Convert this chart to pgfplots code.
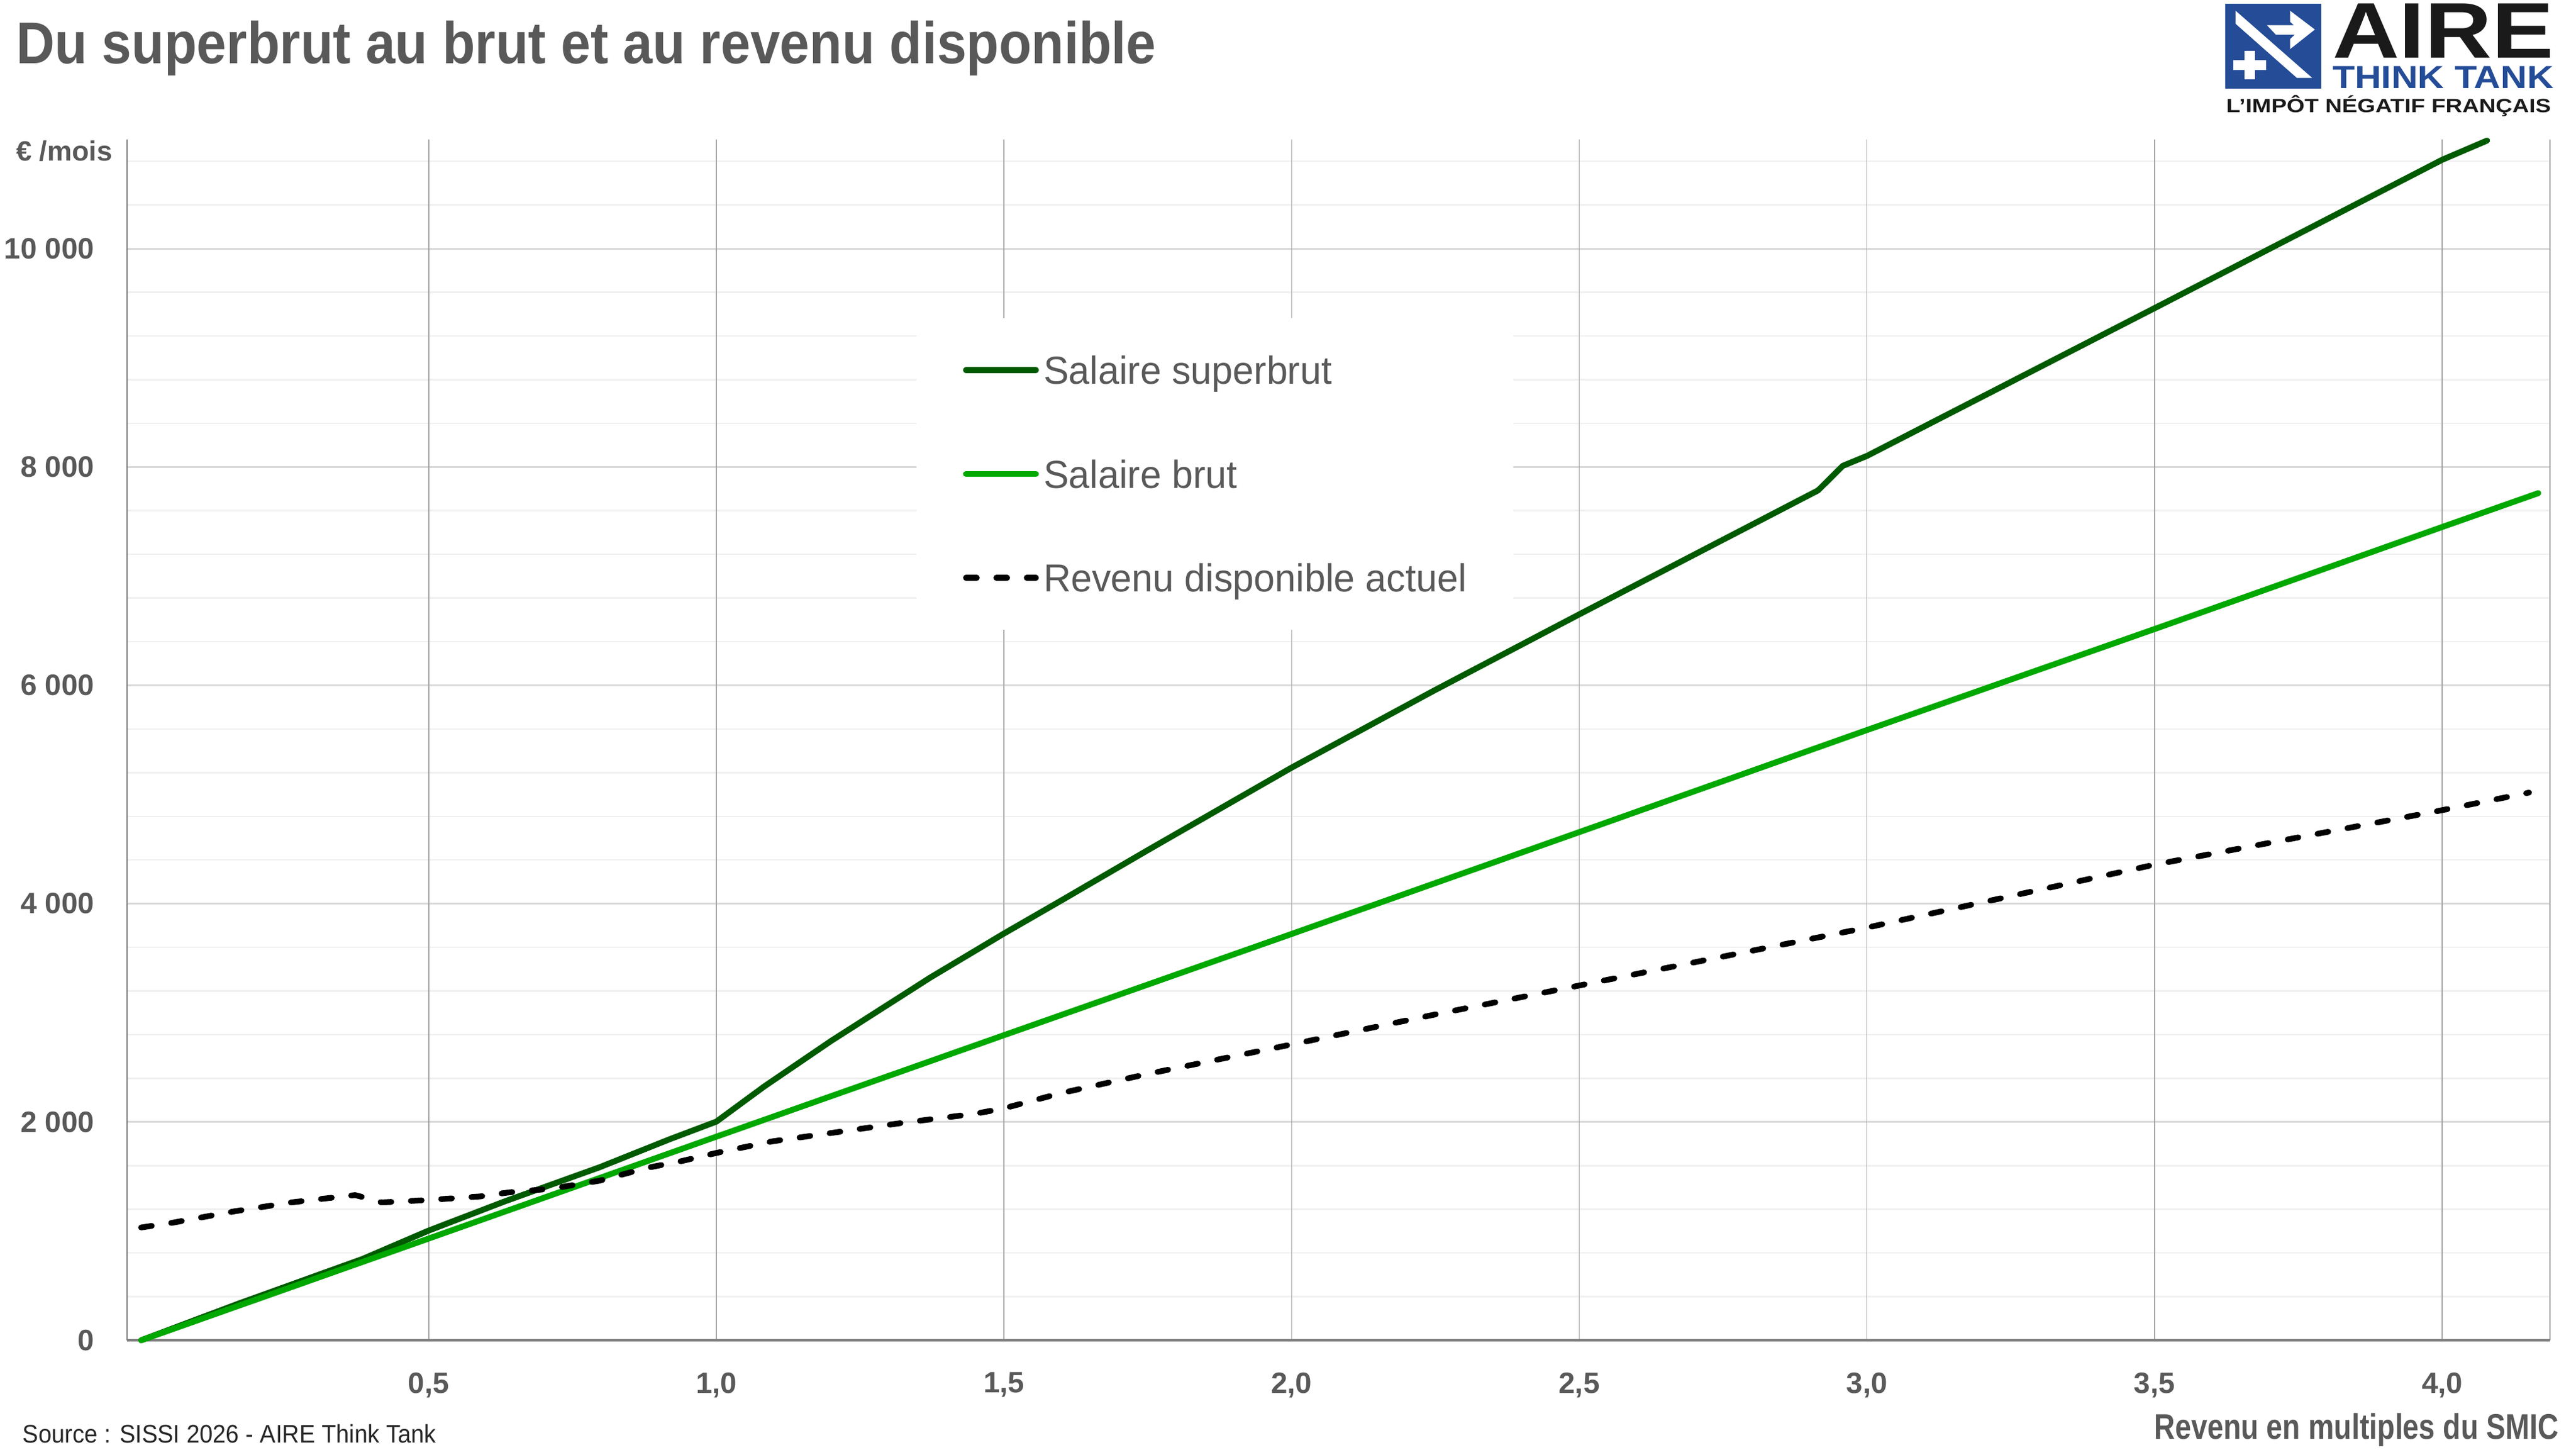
\documentclass[border=0pt]{standalone}
\usepackage{pgfplots}
\pgfplotsset{compat=1.18}
\usepackage{fontspec}
\setmainfont{Liberation Sans}
\newfontfamily\titlef[FakeStretch=0.905]{Liberation Sans}
\newfontfamily\axf[FakeStretch=0.81]{Liberation Sans}
\newfontfamily\legf[FakeStretch=0.97]{Liberation Sans}
\newfontfamily\srcf[FakeStretch=0.93]{Liberation Sans}
\definecolor{txtgray}{HTML}{595959}
\definecolor{srcblack}{HTML}{262626}
\definecolor{sbgreen}{HTML}{005A00}
\definecolor{bgreen}{HTML}{00A800}
\definecolor{aireblue}{HTML}{244C97}
\definecolor{airedark}{HTML}{1A1A1A}
\definecolor{gridmaj}{HTML}{D9D9D9}
\definecolor{gridmin}{HTML}{F0F0F0}
\definecolor{vgrid}{HTML}{A6A6A6}
\definecolor{axgray}{HTML}{808080}
\begin{document}
\begin{tikzpicture}
\path[use as bounding box] (-41.1pt,-35.4pt) rectangle (790.3pt,432.4pt);
% horizontal grid lines
\begin{axis}[
  at={(0pt,0pt)}, anchor=south west,
  scale only axis, width=781.9pt, height=387.4pt,
  xmin=-0.0239, xmax=4.1874, ymin=0, ymax=11000,
  axis line style={draw=none},
  scaled ticks=false,
  xtick=\empty,
  ytick={0,2000,4000,6000,8000,10000},
  minor ytick={400,800,1200,1600,2400,2800,3200,3600,4400,4800,5200,5600,6400,6800,7200,7600,8400,8800,9200,9600,10400,10800},
  yticklabels={},
  tick style={draw=none},
  ymajorgrids=true, yminorgrids=true,
  major grid style={gridmaj, line width=0.6pt},
  minor grid style={gridmin, line width=0.5pt},
]
\end{axis}
\begin{axis}[
  at={(0pt,0pt)}, anchor=south west,
  scale only axis, width=781.9pt, height=387.4pt,
  xmin=-0.0239, xmax=4.1874, ymin=0, ymax=11000,
  scaled ticks=false,
  axis x line*=bottom, axis y line*=left,
  x axis line style={axgray, line width=0.75pt},
  y axis line style={axgray, line width=0.4pt},
  xtick={0.5,1,1.5,2,2.5,3,3.5,4,4.1874},
  xticklabels={{0,5},{1,0},{1,5},{2,0},{2,5},{3,0},{3,5},{4,0},{}},
  ytick={0,2000,4000,6000,8000,10000},
  yticklabels={0,{2 000},{4 000},{6 000},{8 000},{10 000}},
  tick style={draw=none},
  xmajorgrids=true,
  major grid style={vgrid, line width=0.3pt},
  xticklabel style={font=\bfseries\fontsize{9.5}{11}\selectfont, text=txtgray, anchor=north, inner sep=0pt, yshift=-10.2pt},
  yticklabel style={font=\bfseries\fontsize{9.5}{11}\selectfont, text=txtgray, anchor=east, inner sep=0pt, xshift=-10.5pt},
  clip=false,
  legend style={at={(0.3255,0.8518)}, anchor=north west, draw=none, fill=white,
    inner xsep=15pt, inner ysep=12.3pt, row sep=24.5pt, column sep=1.5pt,
    font=\legf\fontsize{12.6}{14}\selectfont, text=txtgray,
    nodes={inner sep=0pt, text height=9pt, text depth=0pt}},
  legend cell align=left,
  legend image code/.code={\draw[#1] (0pt,0pt) -- (22.6pt,0pt);},
  every axis plot/.append style={line cap=round, line join=round},
]
\addplot[sbgreen, line width=1.9pt] coordinates {
(0,0) (0.17,337) (0.385,745) (0.5,1005) (0.632,1272) (0.797,1585) (0.92,1844) (1.0,2003)
(1.084,2328) (1.2,2744) (1.372,3323) (1.498,3720) (1.6,4030) (1.75,4490) (1.998,5240)
(2.247,5950) (2.5,6650) (2.915,7785) (2.958,8010) (3.0,8101) (3.5,9455)
(4.0,10814) (4.078,10990)};
\addlegendentry{Salaire superbrut}
\addplot[bgreen, line width=1.9pt] coordinates {
(0,0) (0.5,932) (1.0,1865) (1.5,2795) (2.0,3722) (2.5,4655) (3.0,5590) (3.5,6515) (4.0,7450) (4.167,7760)};
\addlegendentry{Salaire brut}
\addplot[black, line width=1.85pt, dash pattern=on 3.5pt off 6.3pt] coordinates {
(0,1033) (0.055,1077) (0.162,1181) (0.261,1263) (0.335,1308) (0.372,1330) (0.39,1305)
(0.418,1263) (0.5,1285) (0.59,1318) (0.64,1355) (0.714,1389) (0.797,1462) (0.879,1579)
(0.939,1641) (1.0,1716) (1.097,1822) (1.324,1992) (1.45,2075) (1.5,2125) (1.6,2265)
(1.75,2440) (2.0,2710) (2.25,2985) (2.5,3250) (3.0,3780) (3.5,4357) (4.0,4856) (4.151,5017)};
\addlegendentry{Revenu disponible actuel}
\end{axis}
\begin{scope}[x=0.2pt, y=-0.2pt, shift={(-41.1pt,432.4pt)}]
\node[anchor=base west, inner sep=0pt, text=txtgray, font=\titlef\bfseries\fontsize{19}{22}\selectfont] at (25.5,103) {Du superbrut au brut et au revenu disponible};
\node[anchor=base west, inner sep=0pt, text=txtgray, font=\bfseries\fontsize{9}{10}\selectfont] at (25.5,260) {€ /mois};
\node[anchor=base east, inner sep=0pt, text=txtgray, font=\axf\bfseries\fontsize{11.5}{13}\selectfont] at (4130,2321.7) {Revenu en multiples du SMIC};
\node[anchor=base west, inner sep=0pt, text=srcblack, font=\srcf\fontsize{8.2}{10}\selectfont] at (36,2327.5) {Source : SISSI 2026 - AIRE Think Tank};
% logo
\fill[aireblue] (3590.7,5.7) rectangle (3746.2,142.7);
\fill[white] (3607.6,17.3) -- (3731.2,125.7) -- (3706.6,125.7) -- (3607.6,38.3) -- cycle;
\fill[white] (3695.5,17.3) -- (3735.6,47.7) -- (3695.5,79.3) -- (3695.5,63.3) -- (3703.2,56) -- (3672.8,56) -- (3658.3,40.7) -- (3701.8,40.7) -- (3695.5,35) -- cycle;
\fill[white] (3604.2,97.3) rectangle (3656.9,112.7);
\fill[white] (3622.1,81.7) rectangle (3639,128.3);
\node[anchor=base west, inner sep=0pt, text=airedark] at (3763,93.3) {\resizebox{71.4pt}{17.5pt}{\bfseries AIRE}};
\node[anchor=base west, inner sep=0pt, text=aireblue] at (3763,142.7) {\resizebox{71.4pt}{7.08pt}{\bfseries THINK TANK}};
\node[anchor=base west, inner sep=0pt, text=airedark] at (3591.7,181.7) {\fontsize{6.2}{7}\selectfont\bfseries\scalebox{1.204}[1]{L’IMPÔT NÉGATIF FRANÇAIS}};
\end{scope}
\end{tikzpicture}
\end{document}
